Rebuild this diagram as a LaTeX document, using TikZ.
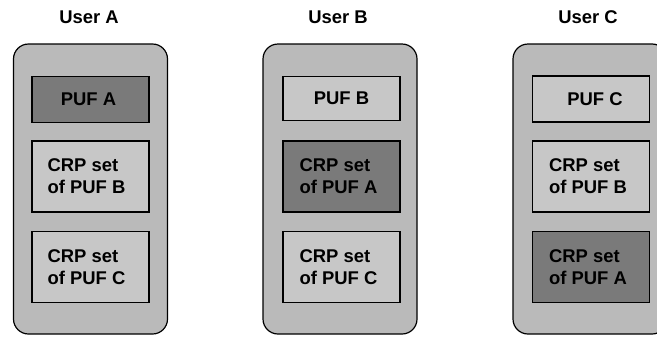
\documentclass[tikz,border=0pt]{standalone}
\usepackage{fontspec}
\setmainfont{Liberation Sans}
\begin{document}
\begin{tikzpicture}[x=1bp,y=-1bp,
  every node/.style={inner sep=0pt, outer sep=0pt},
  userbox/.style={draw=black, line width=1.2bp, fill=black!27, rounded corners=15bp, minimum width=154bp, minimum height=290bp},
  lightbox/.style={draw=black, line width=1.1bp, fill=black!22, minimum width=117bp},
  darkbox/.style={draw=black, line width=1.1bp, fill=black!52, minimum width=117bp},
  onerow/.style={minimum height=46bp},
  tworow/.style={minimum height=71bp},
  lbl/.style={font=\fontsize{18.5}{22}\selectfont\bfseries, align=left, text=black},
  title/.style={font=\fontsize{18.5}{22}\selectfont\bfseries}]
\useasboundingbox (0,0) rectangle (657,336);
\clip (0,0) rectangle (657,336);
% titles
\node[title] (tA) at (89,17) {User A};
\node[title] (tB) at (338,17) {User B};
\node[title] (tC) at (588,17) {User C};
% outer boxes
\node[userbox] (uA) at (90.5,189) {};
\node[userbox] (uB) at (340,189) {};
\node[userbox] (uC) at (590,189) {};
% user A
\node[darkbox,onerow] (a1) at (90.5,99.5) {};
\node[lbl] (a1t) at ([xshift=-2bp]a1.center) {PUF A};
\node[lightbox,tworow] (a2) at (90.5,176.5) {};
\node[lbl] (a2t) at ([xshift=-4bp]a2.center) {CRP set\\of PUF B};
\node[lightbox,tworow] (a3) at (90.5,267) {};
\node[lbl] (a3t) at ([xshift=-4bp]a3.center) {CRP set\\of PUF C};
% user B
\node[lightbox,minimum height=44bp] (b1) at (341.5,98.5) {};
\node[lbl] (b1t) at (b1) {PUF B};
\node[darkbox,tworow] (b2) at (341.5,176.5) {};
\node[lbl] (b2t) at ([xshift=-3bp]b2.center) {CRP set\\of PUF A};
\node[lightbox,tworow] (b3) at (341.5,267) {};
\node[lbl] (b3t) at ([xshift=-3bp]b3.center) {CRP set\\of PUF C};
% user C
\node[lightbox,onerow] (c1) at (591,99) {};
\node[lbl] (c1t) at ([xshift=4bp]c1.center) {PUF C};
\node[lightbox,tworow] (c2) at (591,176.5) {};
\node[lbl] (c2t) at ([xshift=-3bp]c2.center) {CRP set\\of PUF B};
\node[darkbox,tworow] (c3) at (591,267) {};
\node[lbl] (c3t) at ([xshift=-3bp]c3.center) {CRP set\\of PUF A};
\end{tikzpicture}
\end{document}
